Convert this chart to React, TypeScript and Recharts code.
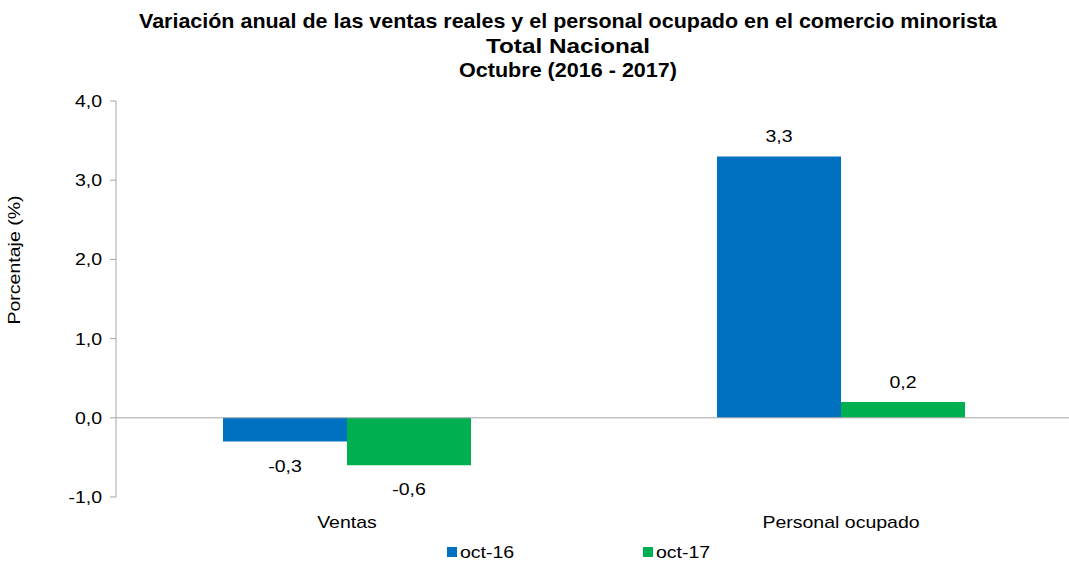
import React from "react";
import { Bar, BarChart, LabelList, ReferenceLine, XAxis, YAxis } from "recharts";

const categories = ["Ventas", "Personal ocupado"];
const oct16 = [-0.3, 3.3];
const oct17 = [-0.6, 0.2];
const yTicks = [-1, 0, 1, 2, 3, 4];

const BLUE = "#0070C0";
const GREEN = "#00B050";
const AXIS = "#A6A6A6";
const FONT = "'Liberation Sans', Arial, sans-serif";
const WIDEN = 1.22; // reference text is drawn wider than plain Arial

const data = categories.map((name, i) => ({ name, oct16: oct16[i], oct17: oct17[i] }));

const fmt = (v: number) => v.toFixed(1).replace(".", ",");

function WideText({ x, y, anchor = "middle", rotate = 0, children }: any) {
  return (
    <text
      transform={`translate(${x},${y}) rotate(${rotate}) scale(${WIDEN},1)`}
      textAnchor={anchor}
      fontSize={16}
      fontFamily={FONT}
      fill="#000"
    >
      {children}
    </text>
  );
}

function ValueLabel(props: any) {
  const { x, y, width, height, value } = props;
  const top = Math.min(y, y + height);
  const bottom = Math.max(y, y + height);
  const ty = value >= 0 ? top - 14 : bottom + 30;
  return <WideText x={x + width / 2} y={ty}>{fmt(value)}</WideText>;
}

function CategoryTick(props: any) {
  const { x, y, payload } = props;
  return <WideText x={x} y={y + 23}>{payload.value}</WideText>;
}

function ValueTick(props: any) {
  const { x, y, payload } = props;
  return (
    <WideText x={x - 6} y={y + 6} anchor="end">
      {fmt(payload.value)}
    </WideText>
  );
}

function AxisTitle(props: any) {
  return (
    <WideText x={20} y={260} rotate={-90}>
      Porcentaje (%)
    </WideText>
  );
}

const titleLines = [
  { text: "Variación anual de las ventas reales y el personal ocupado en el comercio minorista", y: 28, len: 858 },
  { text: "Total Nacional", y: 52.5, len: 164 },
  { text: "Octubre (2016 - 2017)", y: 77, len: 218 },
];

const legendItems = [
  { name: "oct-16", color: BLUE, x: 447 },
  { name: "oct-17", color: GREEN, x: 643 },
];

export default function App() {
  return (
    <div style={{ position: "absolute", left: 0, top: 0, width: 1069, height: 563, background: "#fff" }}>
      <BarChart
        width={1069}
        height={563}
        data={data}
        margin={{ top: 101, right: 0, left: 0, bottom: 0 }}
        barGap={0}
        style={{ position: "absolute", left: 0, top: 0 }}
      >
        <XAxis
          dataKey="name"
          axisLine={false}
          tickLine={false}
          height={66}
          padding={{ left: -16, right: -19 }}
          tick={<CategoryTick />}
        />
        <YAxis
          width={116}
          domain={[-1, 4]}
          ticks={yTicks}
          interval={0}
          axisLine={{ stroke: AXIS }}
          tickLine={{ stroke: AXIS }}
          tickSize={6}
          tick={<ValueTick />}
          label={<AxisTitle />}
        />
        <ReferenceLine y={0} stroke={AXIS} strokeWidth={1} />
        <Bar dataKey="oct16" fill={BLUE} barSize={124} isAnimationActive={false}>
          <LabelList dataKey="oct16" content={<ValueLabel />} />
        </Bar>
        <Bar dataKey="oct17" fill={GREEN} barSize={124} isAnimationActive={false}>
          <LabelList dataKey="oct17" content={<ValueLabel />} />
        </Bar>
      </BarChart>
      <svg width={1069} height={563} style={{ position: "absolute", left: 0, top: 0, pointerEvents: "none" }}>
        {titleLines.map((l) => (
          <text
            key={l.text}
            x={568}
            y={l.y}
            textAnchor="middle"
            fontSize={21}
            fontWeight="bold"
            fontFamily={FONT}
            textLength={l.len}
            lengthAdjust="spacingAndGlyphs"
          >
            {l.text}
          </text>
        ))}
        {legendItems.map((s) => (
          <g key={s.name}>
            <rect x={s.x} y={547} width={10} height={10} fill={s.color} />
            <WideText x={s.x + 13} y={558} anchor="start">
              {s.name}
            </WideText>
          </g>
        ))}
      </svg>
    </div>
  );
}
